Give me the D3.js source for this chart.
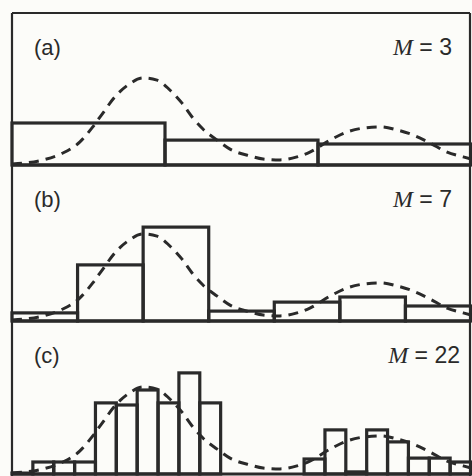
<!DOCTYPE html>
<html>
<head>
<meta charset="utf-8">
<script src="https://cdn.jsdelivr.net/npm/d3@7"></script>
<style>
  body { margin: 0; background: #fcfcf9; }
</style>
</head>
<body>
<script>
// panel labels and bin counts
const panelLabels = ["(a)", "(b)", "(c)"];
const binCounts = [3, 7, 22];

// histogram heights (density units)
const histA = [1.40, 0.83, 0.70];
const histB = [0.27, 1.87, 3.13, 0.33, 0.63, 0.80, 0.50];
const histC = [0.03, 0.40, 0.40, 0.40, 2.37, 2.30, 2.80, 2.37, 3.37, 2.37, 0, 0,
               0, 0, 0.50, 1.47, 0.07, 1.47, 1.07, 0.53, 0.53, 0.40];
const hists = [histA, histB, histC];

// dashed density curve
const curveX = [0, 0.068, 0.111, 0.148, 0.176, 0.198, 0.224, 0.253, 0.285, 0.316,
                0.344, 0.370, 0.394, 0.416, 0.447, 0.475, 0.519, 0.547, 0.584, 0.621,
                0.649, 0.693, 0.730, 0.765, 0.802, 0.839, 0.874, 0.911, 0.948, 0.983, 1.0];
const curveY = [0.03, 0.17, 0.40, 0.77, 1.27, 1.73, 2.27, 2.67, 2.90, 2.83,
                2.50, 2.07, 1.57, 1.20, 0.83, 0.53, 0.30, 0.20, 0.17, 0.27,
                0.43, 0.83, 1.10, 1.23, 1.27, 1.17, 1.00, 0.73, 0.43, 0.27, 0.20];

let canvasW = 472;
let canvasH = 476;
let ink = "#2a2a2a";
let pxPerUnit = 30;

let tops = [13, 165, 321];
let bottoms = [165, 321, 474];

let svg = d3.select("body").append("svg")
  .attr("width", canvasW)
  .attr("height", canvasH)
  .style("background-color", "#fcfcf9");

let x = d3.scaleLinear().domain([0, 1]).range([12, 471]);

let curvePts = curveX.map((v, i) => [v, curveY[i]]);

panelLabels.forEach((label, p) => {
  let top = tops[p], bottom = bottoms[p];
  let y = d3.scaleLinear()
    .domain([0, (bottom - top) / pxPerUnit])
    .range([bottom, top]);

  let M = binCounts[p];
  let g = svg.append("g");

  // histogram bars
  g.selectAll("rect")
    .data(hists[p])
    .enter().append("rect")
      .attr("x", (d, i) => x(i / M))
      .attr("width", (d, i) => x((i + 1) / M) - x(i / M))
      .attr("y", d => y(d))
      .attr("height", d => y(0) - y(d))
      .attr("fill", "none")
      .attr("stroke", ink)
      .attr("stroke-width", 3.2);

  // dashed density
  let line = d3.line()
    .x(d => x(d[0]))
    .y(d => y(d[1]))
    .curve(d3.curveMonotoneX);

  g.append("path")
    .attr("d", line(curvePts))
    .attr("fill", "none")
    .attr("stroke", ink)
    .attr("stroke-width", 3)
    .attr("stroke-dasharray", "10,7");

  // baseline / panel divider
  g.append("line")
    .attr("x1", 12).attr("x2", 471)
    .attr("y1", bottom).attr("y2", bottom)
    .attr("stroke", ink)
    .attr("stroke-width", 2.8);

  // labels
  g.append("text")
    .attr("x", 34)
    .attr("y", top + 42)
    .attr("font-family", "Liberation Sans, Arial, sans-serif")
    .attr("font-size", "22px")
    .attr("fill", ink)
    .text(label);

  let mt = g.append("text")
    .attr("x", p == 2 ? 460 : 452)
    .attr("y", top + 42)
    .attr("text-anchor", "end")
    .attr("font-size", "23px")
    .attr("fill", ink);
  mt.append("tspan")
    .attr("font-family", "Liberation Serif, Times New Roman, serif")
    .attr("font-style", "italic")
    .attr("font-size", "24px")
    .text("M");
  mt.append("tspan")
    .attr("font-family", "Liberation Sans, Arial, sans-serif")
    .text(" = " + M);
});

// outer frame
svg.append("line")
  .attr("x1", 12).attr("x2", 12)
  .attr("y1", 13).attr("y2", canvasH)
  .attr("stroke", ink).attr("stroke-width", 2.2);
svg.append("line")
  .attr("x1", 470).attr("x2", 470)
  .attr("y1", 13).attr("y2", canvasH)
  .attr("stroke", ink).attr("stroke-width", 2.2);
svg.append("line")
  .attr("x1", 12).attr("x2", 470)
  .attr("y1", 13).attr("y2", 13)
  .attr("stroke", ink).attr("stroke-width", 2.2);
</script>
</body>
</html>
